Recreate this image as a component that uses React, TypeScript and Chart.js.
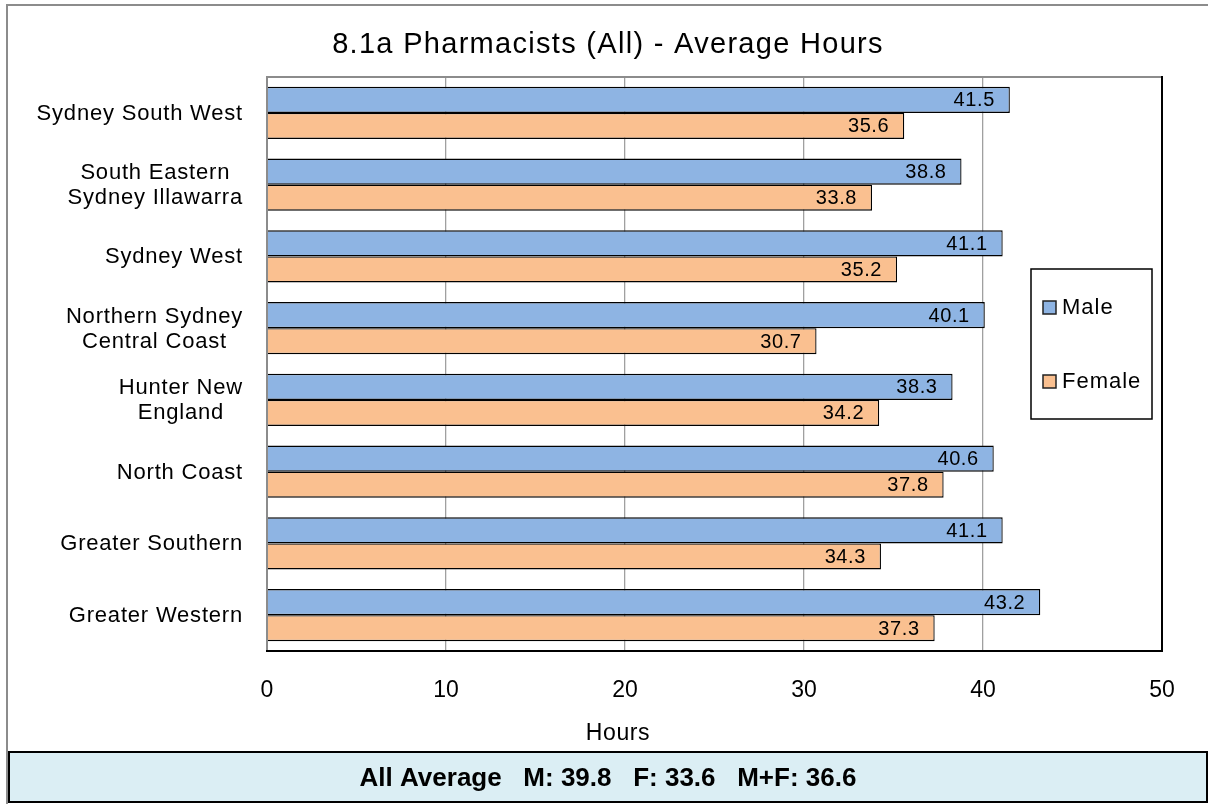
import React, { useEffect, useRef } from 'react';
import { Chart, registerables } from 'chart.js';

Chart.register(...registerables);

const FONT = "'Liberation Sans', Arial, sans-serif";

const titleText = '8.1a Pharmacists (All) - Average Hours';
const axisTitle = 'Hours';

const categories: (string | string[])[] = [
  'Sydney South West',
  ['South Eastern', 'Sydney Illawarra'],
  'Sydney West',
  ['Northern Sydney', 'Central Coast'],
  ['Hunter New', 'England'],
  'North Coast',
  'Greater Southern',
  'Greater Western',
];

const maleHours = [41.5, 38.8, 41.1, 40.1, 38.3, 40.6, 41.1, 43.2];
const femaleHours = [35.6, 33.8, 35.2, 30.7, 34.2, 37.8, 34.3, 37.3];

const xMin = 0;
const xMax = 50;
const xStep = 10;

const seriesNames = ['Male', 'Female'];
const seriesColors = ['#8EB4E3', '#FAC090'];

const summaryLabel = 'All Average';
const summaryKeys = ['M', 'F', 'M+F'];
const summaryValues = [39.8, 33.6, 36.6];

function setSpacing(ctx: any, px: number) {
  if ('letterSpacing' in ctx) ctx.letterSpacing = px + 'px';
}

const decorPlugin = {
  id: 'decor',
  beforeDraw(chart: any) {
    const ctx = chart.ctx;
    ctx.save();
    ctx.fillStyle = '#ffffff';
    ctx.fillRect(0, 0, chart.width, chart.height);
    ctx.strokeStyle = '#8c8c8c';
    ctx.lineWidth = 2;
    ctx.strokeRect(7, 5, 1212, 812);
    ctx.restore();
  },
  afterDatasetsDraw(chart: any) {
    const ctx = chart.ctx;
    ctx.save();
    ctx.fillStyle = '#000';
    ctx.font = `20px ${FONT}`;
    setSpacing(ctx, 0.6);
    ctx.textAlign = 'right';
    ctx.textBaseline = 'middle';
    chart.data.datasets.forEach((ds: any, di: number) => {
      const meta = chart.getDatasetMeta(di);
      meta.data.forEach((bar: any, i: number) => {
        ctx.fillText(Number(ds.data[i]).toFixed(1), bar.x - 15, bar.y + 1);
      });
    });
    ctx.restore();
  },
  afterDraw(chart: any) {
    const ctx = chart.ctx;
    const a = chart.chartArea;
    const yScale = chart.scales.y;
    ctx.save();

    // plot frame
    ctx.lineWidth = 2;
    ctx.strokeStyle = '#8c8c8c';
    ctx.beginPath();
    ctx.moveTo(a.left, a.bottom);
    ctx.lineTo(a.left, a.top);
    ctx.lineTo(a.right, a.top);
    ctx.stroke();
    ctx.strokeStyle = '#000';
    ctx.beginPath();
    ctx.moveTo(a.left - 1, a.bottom);
    ctx.lineTo(a.right, a.bottom);
    ctx.lineTo(a.right, a.top - 1);
    ctx.stroke();

    // title
    ctx.fillStyle = '#000';
    ctx.font = `29px ${FONT}`;
    setSpacing(ctx, 1.3);
    ctx.textAlign = 'center';
    ctx.textBaseline = 'middle';
    ctx.fillText(titleText, 608, 45);

    // category labels
    ctx.font = `22px ${FONT}`;
    setSpacing(ctx, 0.8);
    const lineH = 25;
    categories.forEach((c, i) => {
      const lines = Array.isArray(c) ? c : [c];
      const maxW = Math.max(...lines.map((l) => ctx.measureText(l).width));
      const cx = 243 - maxW / 2;
      const cy = yScale.getPixelForValue(i);
      lines.forEach((l, li) => {
        ctx.fillText(l, cx, cy + (li - (lines.length - 1) / 2) * lineH + 1);
      });
    });

    // axis title
    ctx.font = `23px ${FONT}`;
    setSpacing(ctx, 0.6);
    ctx.fillText(axisTitle, 618, 734);

    // legend
    ctx.lineWidth = 1.5;
    ctx.strokeStyle = '#000';
    ctx.fillStyle = '#fff';
    ctx.fillRect(1031, 269, 121, 150);
    ctx.strokeRect(1031, 269, 121, 150);
    const legendY = [308, 382];
    ctx.font = `22px ${FONT}`;
    setSpacing(ctx, 1);
    ctx.textAlign = 'left';
    seriesNames.forEach((name, i) => {
      const y = legendY[i];
      ctx.fillStyle = seriesColors[i];
      ctx.fillRect(1043, y - 7, 13, 13);
      ctx.strokeStyle = '#222';
      ctx.lineWidth = 1.5;
      ctx.strokeRect(1043, y - 7, 13, 13);
      ctx.fillStyle = '#000';
      ctx.fillText(name, 1062, y);
    });

    // summary box
    ctx.fillStyle = '#DBEEF4';
    ctx.fillRect(9, 752, 1198, 50);
    ctx.strokeStyle = '#000';
    ctx.lineWidth = 2;
    ctx.strokeRect(9, 752, 1198, 50);
    ctx.fillStyle = '#000';
    ctx.font = `bold 26px ${FONT}`;
    setSpacing(ctx, 0);
    ctx.textAlign = 'center';
    const parts = summaryKeys.map((k, i) => `${k}: ${summaryValues[i].toFixed(1)}`);
    const text = [summaryLabel, ...parts].join('   ');
    ctx.fillText(text, 608, 779);

    ctx.restore();
  },
};

export default function App() {
  const ref = useRef<HTMLCanvasElement>(null);

  useEffect(() => {
    document.body.style.margin = '0';
    document.body.style.overflow = 'hidden';
    const canvas = ref.current!;
    const chart = new Chart(canvas, {
      type: 'bar',
      data: {
        labels: categories as any,
        datasets: [
          {
            label: seriesNames[0],
            data: maleHours,
            backgroundColor: seriesColors[0],
            borderColor: '#000',
            borderWidth: 1.3,
            categoryPercentage: 0.725,
            barPercentage: 1,
          },
          {
            label: seriesNames[1],
            data: femaleHours,
            backgroundColor: seriesColors[1],
            borderColor: '#000',
            borderWidth: 1.3,
            categoryPercentage: 0.725,
            barPercentage: 1,
          },
        ],
      },
      options: {
        indexAxis: 'y',
        responsive: false,
        animation: false,
        devicePixelRatio: 1,
        layout: { padding: { top: 77, right: 46, bottom: 52, left: 0 } },
        plugins: {
          legend: { display: false },
          title: { display: false },
          tooltip: { enabled: false },
        },
        scales: {
          x: {
            min: xMin,
            max: xMax,
            ticks: {
              stepSize: xStep,
              color: '#000',
              font: { family: FONT, size: 23 },
              padding: 26,
            },
            grid: { color: '#a0a0a0', lineWidth: 1.3, drawTicks: false },
            border: { display: false },
            afterFit: (s: any) => {
              s.height = 101;
            },
          },
          y: {
            ticks: { display: false },
            grid: { display: false },
            border: { display: false },
            afterFit: (s: any) => {
              s.width = 267;
            },
          },
        },
      },
      plugins: [decorPlugin],
    });
    return () => chart.destroy();
  }, []);

  return (
    <div style={{ width: 1208, height: 804, position: 'relative' }}>
      <canvas ref={ref} width={1208} height={804} style={{ display: 'block' }} />
    </div>
  );
}
